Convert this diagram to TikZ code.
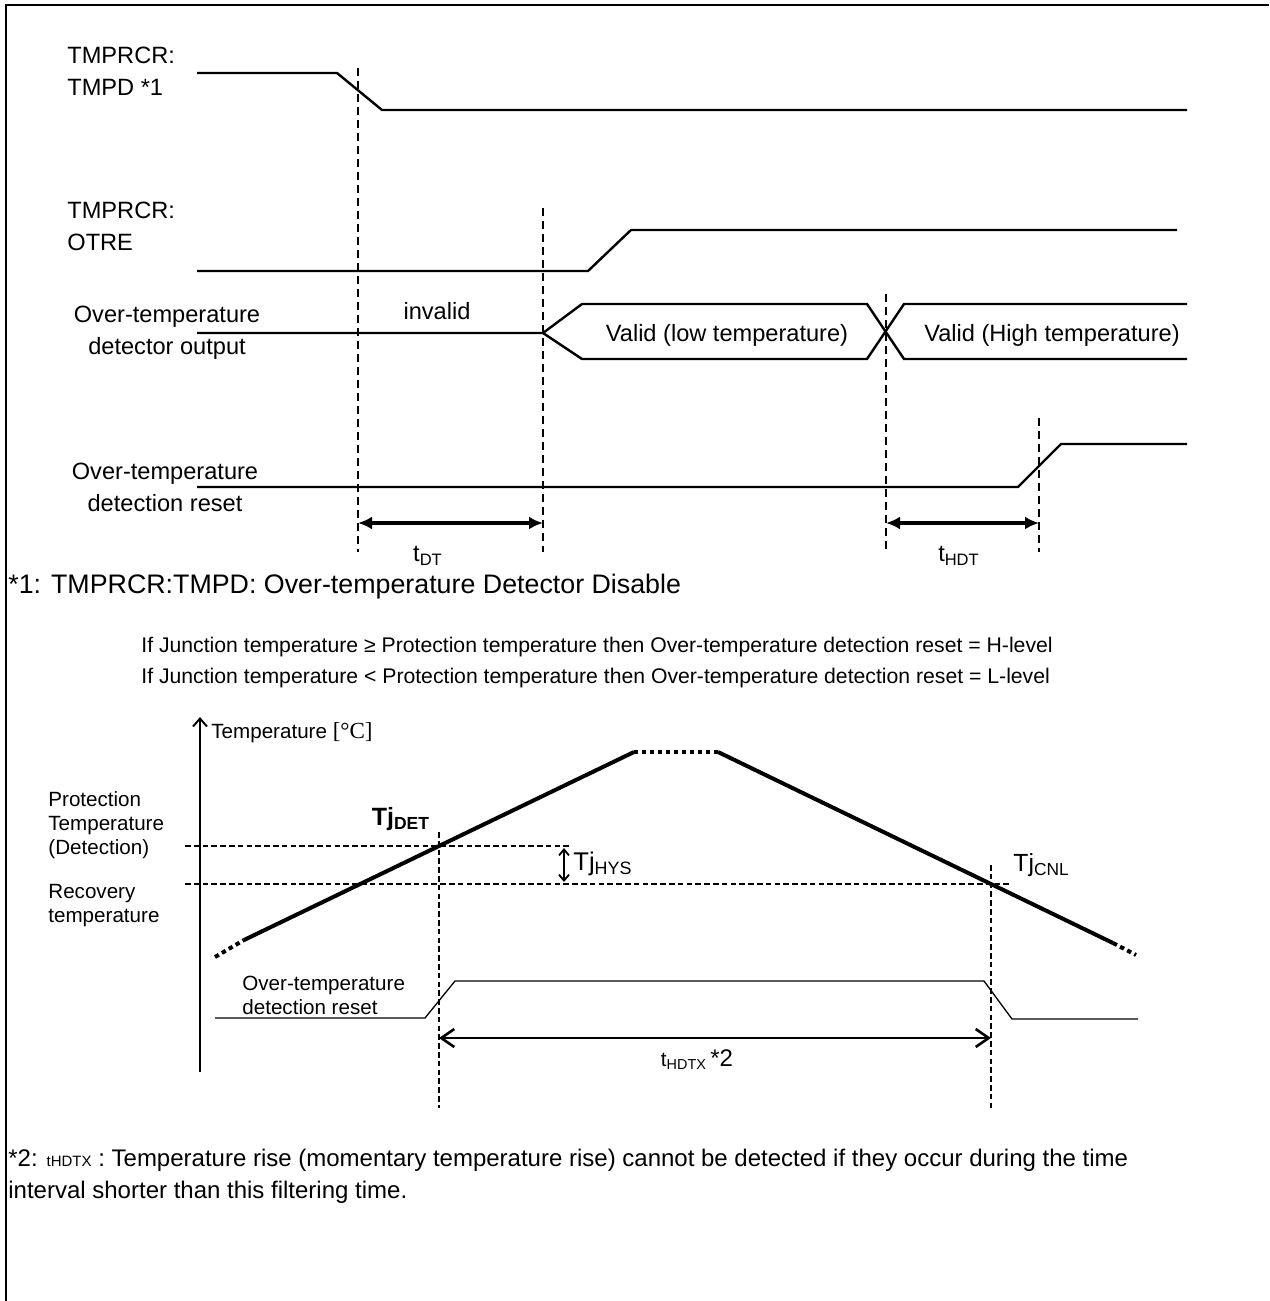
\documentclass[tikz,border=0pt]{standalone}
\usepackage{fontspec}
\setmainfont{Liberation Sans}
\newfontfamily\timesface{Liberation Serif}
\usetikzlibrary{arrows.meta,positioning,calc}

\begin{document}
\begin{tikzpicture}[x=0.5pt, y=-0.5pt,
    every node/.style={font=\fontsize{11.8}{16}\selectfont, inner sep=0pt},
    sig/.style={line width=1.2pt},
    thinsig/.style={line width=0.65pt},
    ramp/.style={line width=2pt},
    dots/.style={line width=2pt, dash pattern=on 2.2pt off 1.8pt},
    guide/.style={line width=0.6pt, dash pattern=on 4pt off 2.5pt},
    guidesm/.style={line width=0.6pt, dash pattern=on 2.8pt off 1.6pt},
    dimarrow/.style={line width=1.7pt, {Latex[length=7pt,width=6.5pt]}-{Latex[length=7pt,width=6.5pt]}},
    spanarrow/.style={line width=1.3pt, {Straight Barb[length=6.5pt,width=9pt]}-{Straight Barb[length=6.5pt,width=9pt]}},
    lbl/.style={align=center},
    small/.style={font=\fontsize{10.3}{12}\selectfont},
    note/.style={anchor=base west}]

\useasboundingbox (0,0) rectangle (1269,1301);
\draw[line width=1pt] (6,1301) -- (6,5) -- (1269,5);

% --- register / signal waveforms ---
\node[lbl, align=left, anchor=west] (tmpd) at (67,71) {TMPRCR:\\TMPD *1};
\draw[sig] (197,73) -- (337,73) -- (382,110) -- (1187,110);

\node[lbl, align=left, anchor=west] (otre) at (67,226) {TMPRCR:\\OTRE};
\draw[sig] (197,271) -- (588,271) -- (631,230) -- (1177,230);

\node[lbl] (detout) at (167,333) {Over-temperature\\detector output};
\draw[sig] (197,333) -- (543,333) -- (582,304) -- (867,304) -- (904,359) -- (1187,359);
\draw[sig] (543,333) -- (582,359) -- (867,359) -- (904,304) -- (1187,304);
\node (invalid) at (437,311) {invalid};
\node (validlo) at (727,335) {Valid (low temperature)};
\node (validhi) at (1052,335) {Valid (High temperature)};

\node[lbl] (rstlbl) at (165,487) {Over-temperature\\detection reset};
\draw[sig] (197,487) -- (1018,487) -- (1061,444) -- (1187,444);

% timing marks
\draw[guide] (358,68) -- (358,552);
\draw[guide] (543,208) -- (543,552);
\draw[guide] (886,294) -- (886,552);
\draw[guide] (1039,418) -- (1039,552);

\coordinate (dt0) at (358,523);
\coordinate (dt1) at (543,523);
\coordinate (hdt0) at (886,523);
\coordinate (hdt1) at (1039,523);
\draw[dimarrow] (dt0) -- (dt1);
\draw[dimarrow] (hdt0) -- (hdt1);
\node (tdt) at (428,556) {t\textsubscript{DT}};
\node (thdt) at (959,556) {t\textsubscript{HDT}};

\node[note, font=\fontsize{13.4}{16}\selectfont] (fn1) at (8,593) {*1: TMPRCR:TMPD: Over-temperature Detector Disable};
\node[note, font=\fontsize{10.6}{12}\selectfont] (cond1) at (141,652)
  {If Junction temperature ≥ Protection temperature then Over-temperature detection reset = H-level};
\node[note, font=\fontsize{10.6}{12}\selectfont] (cond2) at (141,683)
  {If Junction temperature < Protection temperature then Over-temperature detection reset = L-level};

% --- temperature graph ---
\draw[line width=1pt, -{Straight Barb[length=4pt,width=7pt]}] (200,1072) -- (200,717);
\node[small, anchor=west] (taxis) at (211,733) {Temperature {\timesface\fontsize{11.5}{12}\selectfont[°C]}};

\coordinate (c0) at (244,940);
\coordinate (c1) at (634,752);
\coordinate (c2) at (718,752);
\coordinate (c3) at (1113,943);
\draw[dots] (215,957) -- (c0);
\draw[ramp] (c0) -- (c1);
\draw[dots] (c1) -- (c2);
\draw[ramp] (c2) -- (c3);
\draw[dots] (c3) -- (1136,955);

\coordinate (det) at (intersection of c0--c1 and 0,846--100,846);
\coordinate (cnl) at (intersection of c2--c3 and 0,884--100,884);
\coordinate (gtop) at (0,832);
\coordinate (ctop) at (0,865);
\coordinate (gbot) at (0,1108);
\coordinate (hx) at (0,1038);

\draw[guidesm] (185,846) -- (572,846);
\draw[guidesm] (185,884) -- (1012,884);
\draw[guidesm] (det |- gtop) -- (det |- gbot);
\draw[guidesm] (cnl |- ctop) -- (cnl |- gbot);

\node[small, align=left, anchor=north west] (prot) at (48,791) {Protection\\Temperature\\(Detection)};
\node[small, align=left, anchor=north west] (recov) at (48,884) {Recovery\\temperature};

\node[font=\bfseries\fontsize{12.5}{14}\selectfont] (tjdet) at (401,819) {Tj\textsubscript{DET}};
\coordinate (hys0) at (564,848);
\coordinate (hys1) at (564,882);
\draw[line width=0.9pt, {Straight Barb[length=3pt,width=5pt]}-{Straight Barb[length=3pt,width=5pt]}] (hys0) -- (hys1);
\node[anchor=west, font=\fontsize{12.8}{14}\selectfont] (tjhys) at (573,864) {Tj\textsubscript{HYS}};
\node[anchor=west, font=\fontsize{12.4}{14}\selectfont] (tjcnl) at (1013,865) {Tj\textsubscript{CNL}};

\draw[thinsig] (215,1018) -- (425,1018) -- (455,981) -- (984,981) -- (1012,1019) -- (1138,1019);
\node[small, align=left, anchor=north west] (rst2) at (242,976) {Over-temperature\\detection reset};

\draw[spanarrow] (det |- hx) -- (cnl |- hx);
\node (thdtx) at (697,1060) {\fontsize{10.3}{12}\selectfont t\textsubscript{HDTX}\,\fontsize{12}{12}\selectfont*2};

\node[note, font=\fontsize{12}{16}\selectfont] (fn2a) at (8,1166) {*2: {\fontsize{7.5}{8}\selectfont tHDTX} : Temperature rise (momentary temperature rise) cannot be detected if they occur during the time};
\node[note, font=\fontsize{12}{16}\selectfont] (fn2b) at (8,1198) {interval shorter than this filtering time.};
\end{tikzpicture}
\end{document}
